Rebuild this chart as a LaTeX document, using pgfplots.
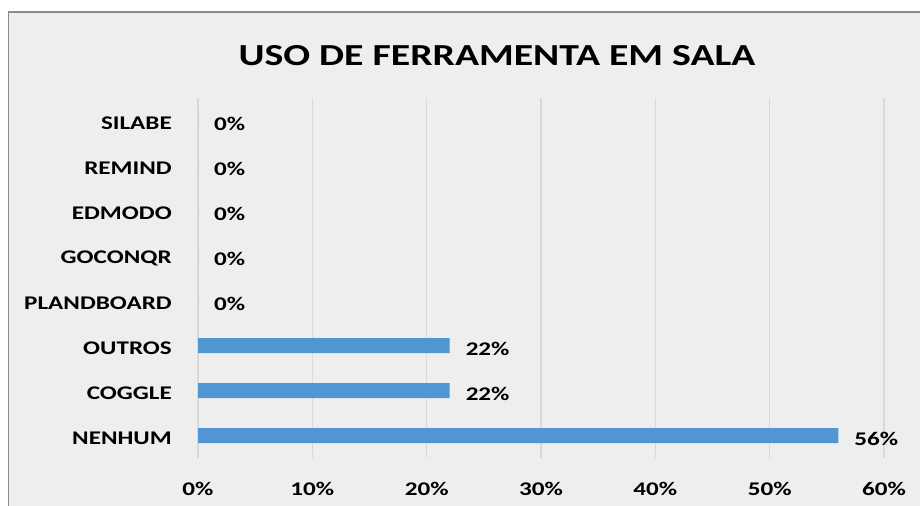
\documentclass[border=0pt]{standalone}
\usepackage{fontspec}
\setmainfont{Carlito}[FakeStretch=1.3]
\usepackage{pgfplots}
\pgfplotsset{compat=1.18}
\definecolor{bggray}{HTML}{EEEEEE}
\definecolor{framegray}{HTML}{8C8C8C}
\definecolor{gridgray}{HTML}{D9D9D9}
\definecolor{barblue}{RGB}{80,150,210}
\begin{document}
\begin{tikzpicture}
\useasboundingbox (0,0) rectangle (18.4,10.1);
\begin{scope}
  \clip (0,0) rectangle (18.4,10.1);
  \fill[white] (0,0) rectangle (18.4,10.1);
  \filldraw[fill=bggray, draw=framegray, line width=0.8pt] (0.17,-0.5) rectangle (19,9.86);
\end{scope}
\node[font=\fontsize{17.4}{20}\selectfont\bfseries] at (9.94,8.98) {USO DE FERRAMENTA EM SALA};
\begin{axis}[
    at={(3.96cm,0.94cm)}, anchor=south west,
    scale only axis,
    width=13.72cm, height=7.2cm,
    xbar, bar width=0.3cm,
    xmin=0, xmax=60, xtick={0,10,...,60},
    ymin=-0.5, ymax=7.5, ytick={0,...,7},
    yticklabels={NENHUM,COGGLE,OUTROS,PLANDBOARD,GOCONQR,EDMODO,REMIND,SILABE},
    xticklabel={\pgfmathprintnumber{\tick}\%},
    /pgf/number format/assume math mode=true,
    axis line style={draw=none},
    major tick length=0pt,
    xmajorgrids, major grid style={gridgray, line width=0.9pt},
    ticklabel style={font=\fontsize{11}{13}\selectfont\bfseries, text=black},
    yticklabel style={xshift=-0.4cm, yshift=-0.05cm},
    xticklabel style={yshift=-0.36cm},
    nodes near coords={\pgfmathprintnumber{\pgfplotspointmeta}\%},
    point meta=x,
    every node near coord/.append style={anchor=west, xshift=0.2cm, yshift=-0.06cm,
      font=\fontsize{11}{13}\selectfont\bfseries, text=black},
]
\addplot[fill=barblue, draw=none] coordinates {
    (56,0) % NENHUM
    (22,1) % COGGLE
    (22,2) % OUTROS
    (0,3)  % PLANDBOARD
    (0,4)  % GOCONQR
    (0,5)  % EDMODO
    (0,6)  % REMIND
    (0,7)  % SILABE
};
\end{axis}
\end{tikzpicture}
\end{document}
